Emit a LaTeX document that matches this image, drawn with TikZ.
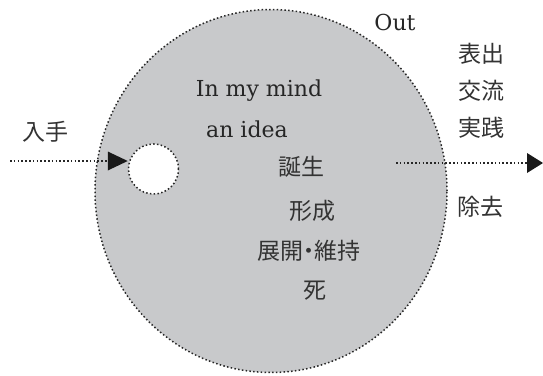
\documentclass[tikz,border=0pt]{standalone}
\usepackage{fontspec}
\newfontfamily\jp{Noto Sans CJK JP}
\newfontfamily\enserif{DejaVu Serif}
\usetikzlibrary{shapes.geometric}
\definecolor{discgray}{HTML}{C8C9CB}
\tikzset{
  dotline/.style={line width=1.5pt, dash pattern=on 1.5pt off 2.3pt, draw=black!85},
  jplabel/.style={font=\jp\fontsize{23}{23}\selectfont, inner sep=0pt, text=black!80},
  enlabel/.style={font=\enserif\fontsize{22}{22}\selectfont, inner sep=0pt, text=black!85},
  tipfill/.style={fill=black!90}
}
\begin{document}
\begin{tikzpicture}[x=1pt,y=-1pt]
\useasboundingbox (0,0) rectangle (543,375);
\node[ellipse, minimum width=352pt, minimum height=363pt, inner sep=0pt, fill=discgray, dotline] (disc) at (271,191) {};
\node[circle, minimum size=50pt, inner sep=0pt, fill=white, dotline] (hole) at (153.5,169) {};
\coordinate (instart) at (10,161);
\coordinate (outstart) at (396,163);
\coordinate (outend) at (543,163);
\draw[dotline] (instart) -- (instart -| hole.west);
\draw[dotline] (outstart) -- ([xshift=-15pt]outend);
\fill[tipfill] (instart -| hole.west) -- ++(-20,-9.5) -- ++(0,19) -- cycle;
\fill[tipfill] (outend) -- ++(-16,-10) -- ++(0,20) -- cycle;
\node[enlabel, anchor=base] (out) at (395,30) {Out};
\node[enlabel, anchor=base] (mind) at (259,96) {In my mind};
\node[enlabel, anchor=base] (idea) at (247,137) {an idea};
\node[jplabel] (nyushu) at (45,132) {入手};
\node[jplabel] (hyoshutsu) at (481,54) {表出};
\node[jplabel] (koryu) at (481,91) {交流};
\node[jplabel] (jissen) at (481,128) {実践};
\node[jplabel] (jokyo) at (480,207) {除去};
\node[jplabel] (tanjo) at (301,167) {誕生};
\node[jplabel] (keisei) at (312,211) {形成};
\node[jplabel] (tenkai) at (309,251) {展開{\kern-0.25em}・{\kern-0.25em}維持};
\node[jplabel] (shi) at (315,291) {死};
\end{tikzpicture}
\end{document}
